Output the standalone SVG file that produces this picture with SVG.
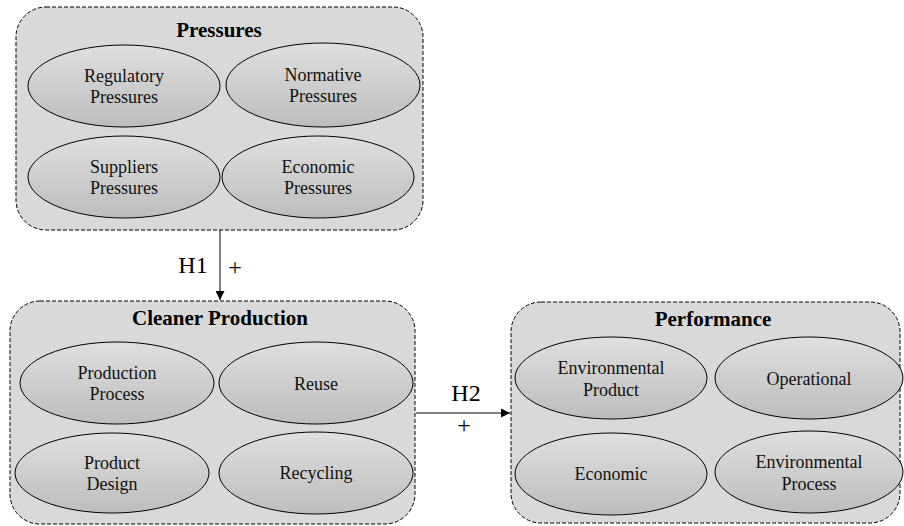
<svg xmlns="http://www.w3.org/2000/svg" width="904" height="526" viewBox="0 0 904 526">
<defs>
<linearGradient id="eg" x1="0" y1="0" x2="0" y2="1">
<stop offset="0" stop-color="#dfdfdf"/>
<stop offset="1" stop-color="#bdbdbd"/>
</linearGradient>
<marker id="ah" viewBox="0 0 10 10" refX="10" refY="5" markerWidth="9" markerHeight="9" markerUnits="userSpaceOnUse" orient="auto">
<path d="M0,0 L10,5 L0,10 z" fill="#000"/>
</marker>
<style>
.box{fill:#d9d9d9;stroke:#000;stroke-width:1;stroke-dasharray:4,2}
.el{fill:url(#eg);stroke:#000;stroke-width:1}
.t{font-family:"Liberation Serif",serif;font-size:18px;fill:#111;text-anchor:middle}
.h{font-family:"Liberation Serif",serif;font-size:21px;font-weight:bold;fill:#000;text-anchor:middle}
.lab{font-family:"Liberation Serif",serif;font-size:24px;fill:#000;text-anchor:middle}
.ln{stroke:#000;stroke-width:1;fill:none}
</style>
</defs>
<rect width="904" height="526" fill="#fff"/>

<g id="pressures">
<rect class="box" x="16" y="7" width="407" height="223" rx="30"/>
<text class="h" x="219" y="37">Pressures</text>
<g id="regulatory"><ellipse class="el" cx="124" cy="86" rx="96" ry="41"/><text class="t" x="124" y="82">Regulatory</text><text class="t" x="124" y="103">Pressures</text></g>
<g id="normative"><ellipse class="el" cx="323" cy="85" rx="97" ry="42"/><text class="t" x="323" y="81">Normative</text><text class="t" x="323" y="102">Pressures</text></g>
<g id="suppliers"><ellipse class="el" cx="124" cy="177" rx="96" ry="41"/><text class="t" x="124" y="173">Suppliers</text><text class="t" x="124" y="194">Pressures</text></g>
<g id="economic-pressures"><ellipse class="el" cx="318" cy="177" rx="96" ry="41"/><text class="t" x="318" y="173">Economic</text><text class="t" x="318" y="194">Pressures</text></g>
</g>

<g id="cleaner">
<rect class="box" x="10" y="301" width="405" height="223" rx="30"/>
<text class="h" x="220" y="325">Cleaner Production</text>
<g id="production-process"><ellipse class="el" cx="117" cy="383" rx="97" ry="41"/><text class="t" x="117" y="379">Production</text><text class="t" x="117" y="400">Process</text></g>
<g id="reuse"><ellipse class="el" cx="316" cy="383" rx="97" ry="41"/><text class="t" x="316" y="390">Reuse</text></g>
<g id="product-design"><ellipse class="el" cx="112" cy="473" rx="97" ry="40"/><text class="t" x="112" y="469">Product</text><text class="t" x="112" y="490">Design</text></g>
<g id="recycling"><ellipse class="el" cx="316" cy="473" rx="97" ry="41"/><text class="t" x="316" y="479">Recycling</text></g>
</g>

<g id="performance">
<rect class="box" x="511" y="302" width="389" height="221" rx="30"/>
<text class="h" x="713" y="326">Performance</text>
<g id="env-product"><ellipse class="el" cx="611" cy="378" rx="96" ry="41"/><text class="t" x="611" y="374">Environmental</text><text class="t" x="611" y="396">Product</text></g>
<g id="operational"><ellipse class="el" cx="809" cy="378" rx="94" ry="41"/><text class="t" x="809" y="385">Operational</text></g>
<g id="economic"><ellipse class="el" cx="611" cy="474" rx="96" ry="41"/><text class="t" x="611" y="480">Economic</text></g>
<g id="env-process"><ellipse class="el" cx="809" cy="472" rx="94" ry="41"/><text class="t" x="809" y="468">Environmental</text><text class="t" x="809" y="490">Process</text></g>
</g>

<g id="connectors">
<line class="ln" x1="220" y1="230" x2="220" y2="300" marker-end="url(#ah)"/>
<text class="lab" x="193" y="273">H1</text>
<text class="lab" x="235" y="275">+</text>
<line class="ln" x1="416" y1="413" x2="510" y2="413" marker-end="url(#ah)"/>
<text class="lab" x="466" y="401">H2</text>
<text class="lab" x="464" y="433">+</text>
</g>
</svg>
